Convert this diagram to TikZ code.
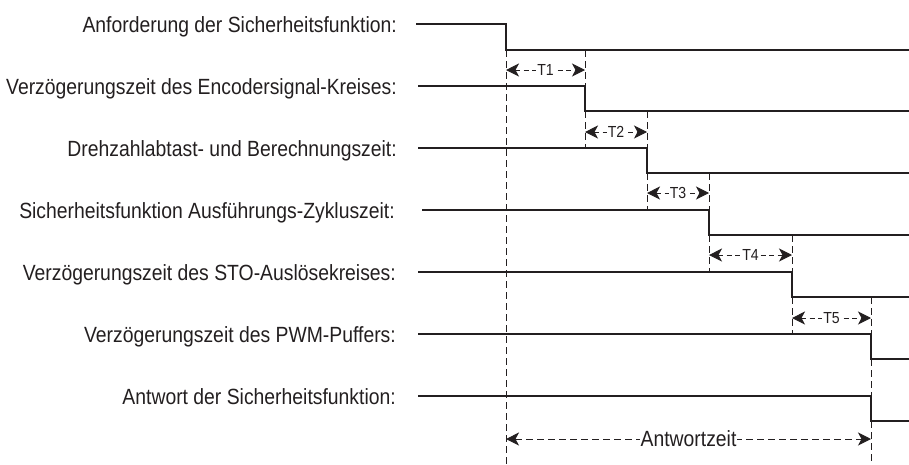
\documentclass[tikz,border=0pt]{standalone}
\usepackage{fontspec}
\setmainfont[FakeStretch=0.88]{Liberation Sans}
\usetikzlibrary{arrows.meta}
\definecolor{ink}{HTML}{231F20}
\begin{document}
\begin{tikzpicture}[x=1pt,y=-1pt,
  sig/.style={draw=ink,line width=1.9pt,line join=miter},
  guide/.style={draw=ink,line width=0.9pt,dash pattern=on 7pt off 4pt},
  dim/.style={draw=ink,line width=1pt,dash pattern=on 5pt off 3.5pt,
    {Stealth[length=13pt,width=13pt,inset=3.5pt]}-{Stealth[length=13pt,width=13pt,inset=3.5pt]}},
  lbl/.style={anchor=base east,inner sep=0pt,text=ink,font=\fontsize{22}{24}\selectfont},
  tlbl/.style={fill=white,inner sep=1pt,text=ink,font=\fontsize{16}{18}\selectfont},
  alb/.style={fill=white,inner sep=0.5pt,text=ink,font=\fontsize{22}{24}\selectfont}]
\useasboundingbox (0,0) rectangle (909,464);
% labels
\node[lbl] (l1) at (397,32) {Anforderung der Sicherheitsfunktion:};
\node[lbl] (l2) at (397,94) {Verzögerungszeit des Encodersignal-Kreises:};
\node[lbl] (l3) at (397,156) {Drehzahlabtast- und Berechnungszeit:};
\node[lbl] (l4) at (395,218) {Sicherheitsfunktion Ausführungs-Zykluszeit:};
\node[lbl] (l5) at (396,280) {Verzögerungszeit des STO-Auslösekreises:};
\node[lbl] (l6) at (396,342) {Verzögerungszeit des PWM-Puffers:};
\node[lbl] (l7) at (396,404) {Antwort der Sicherheitsfunktion:};
% signal coordinates
\coordinate (s1) at (416,24);  \coordinate (a1) at (506,24);  \coordinate (b1) at (506,50);  \coordinate (e1) at (909,50);
\coordinate (s2) at (418,86);  \coordinate (a2) at (585,86);  \coordinate (b2) at (585,111); \coordinate (e2) at (909,111);
\coordinate (s3) at (418,148); \coordinate (a3) at (647,148); \coordinate (b3) at (647,173); \coordinate (e3) at (909,173);
\coordinate (s4) at (422,210); \coordinate (a4) at (709,210); \coordinate (b4) at (709,235); \coordinate (e4) at (909,235);
\coordinate (s5) at (418,272); \coordinate (a5) at (792,272); \coordinate (b5) at (792,297); \coordinate (e5) at (909,297);
\coordinate (s6) at (418,334); \coordinate (a6) at (871,334); \coordinate (b6) at (871,359); \coordinate (e6) at (909,359);
\coordinate (s7) at (418,396); \coordinate (a7) at (871,396); \coordinate (b7) at (871,421); \coordinate (e7) at (909,421);
\coordinate (z0) at (506,464); \coordinate (z5) at (871,464);
% guides
\draw[guide] (b1) -- (z0);
\draw[guide] (585,50) -- (a2);  \draw[guide] (b2) -- (585,148);
\draw[guide] (647,111) -- (a3); \draw[guide] (b3) -- (647,210);
\draw[guide] (709,173) -- (a4); \draw[guide] (b4) -- (709,272);
\draw[guide] (792,235) -- (a5); \draw[guide] (b5) -- (792,334);
\draw[guide] (871,297) -- (a6); \draw[guide] (b6) -- (a7); \draw[guide] (b7) -- (z5);
% signals
\foreach \i in {1,...,7} { \draw[sig] (s\i) -- (a\i) -- (b\i) -- (e\i); }
% dimension arrows
\coordinate (p1l) at (506,70);  \coordinate (p1r) at (585,70);
\coordinate (p2l) at (585,132); \coordinate (p2r) at (647,132);
\coordinate (p3l) at (647,193); \coordinate (p3r) at (709,193);
\coordinate (p4l) at (709,255); \coordinate (p4r) at (792,255);
\coordinate (p5l) at (792,318); \coordinate (p5r) at (871,318);
\coordinate (pal) at (506,439); \coordinate (par) at (871,439);
\draw[dim] (p1l) -- node[tlbl] (t1) {T1} (p1r);
\draw[dim] (p2l) -- node[tlbl] (t2) {T2} (p2r);
\draw[dim] (p3l) -- node[tlbl] (t3) {T3} (p3r);
\draw[dim] (p4l) -- node[tlbl] (t4) {T4} (p4r);
\draw[dim] (p5l) -- node[tlbl] (t5) {T5} (p5r);
\draw[dim,dash pattern=on 7pt off 4pt] (pal) -- node[alb] (ta) {Antwortzeit} (par);
\end{tikzpicture}
\end{document}
